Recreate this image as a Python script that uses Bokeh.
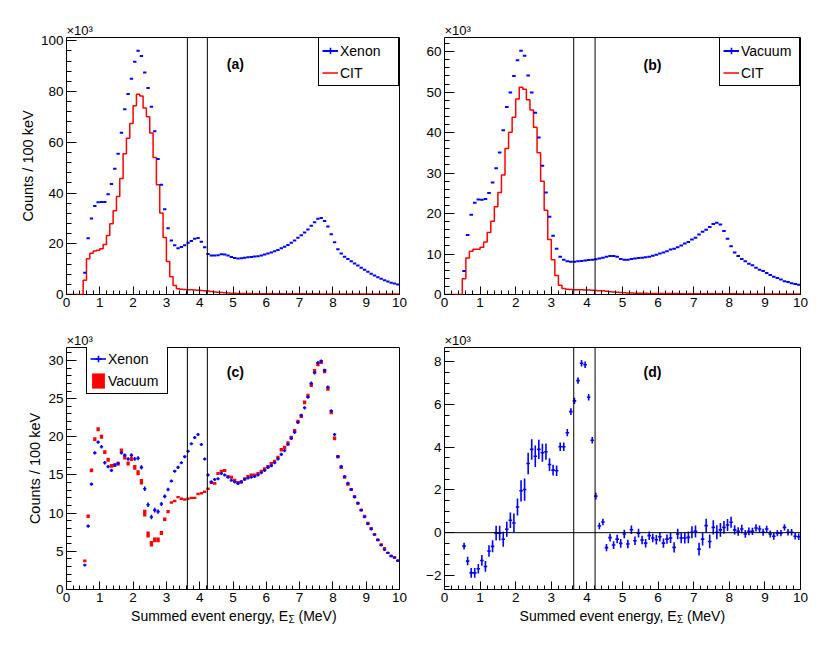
import numpy as np
from bokeh.plotting import figure
from bokeh.layouts import row, column
from bokeh.models import Span, Label, Legend, LegendItem, SingleIntervalTicker, Range1d
from bokeh.core.properties import value
from bokeh.embed import file_html
from bokeh.resources import INLINE

FONT = "Liberation Sans"
BLUE = "#0000ff"
RED = "#ff0000"

# ---------------- data (counts in units of 10^3 per 100 keV bin) ----------------
# bin centres of the filled bins (MeV), 0.55 ... 9.95
energy = [round(0.55 + 0.1 * i, 2) for i in range(95)]
# histogram bin edges for the CIT step histograms (MeV), 0.0 ... 10.0
cit_edges = [round(0.1 * i, 1) for i in range(101)]
# analysis window (MeV)
window_edges = [3.63, 4.23]
zero_level = 0.0

xenon_a = [
    8.6, 22.2, 30.0, 34.9, 36.4, 36.5, 36.5, 39.5, 43.6, 49.6,
    55.5, 63.8, 73.0, 79.0, 85.0, 91.7, 96.1, 94.0, 87.5, 81.4,
    74.0, 64.3, 53.4, 43.3, 33.6, 26.1, 21.3, 19.4, 18.2, 18.7,
    19.4, 20.4, 21.1, 22.0, 22.3, 20.8, 18.6, 16.0, 15.4, 15.4,
    15.5, 15.9, 15.8, 15.4, 14.8, 14.4, 14.2, 14.3, 14.5, 14.7,
    14.8, 15.0, 15.1, 15.4, 15.8, 16.2, 16.6, 17.0, 17.5, 18.2,
    18.8, 19.5, 20.4, 21.3, 22.4, 23.4, 24.4, 25.6, 27.1, 28.5,
    29.9, 30.2, 29.0, 26.8, 23.7, 20.6, 17.8, 16.2, 14.9, 14.0,
    13.1, 12.2, 11.4, 10.5, 9.8, 9.0, 8.2, 7.5, 6.8, 6.2,
    5.6, 5.1, 4.6, 4.3, 3.9,
]

cit_a = [
    0, 0, 0, 0, 0, 5.6, 14.1, 16.3, 17.1, 17.4,
    18.0, 19.7, 23.3, 27.9, 33.0, 38.6, 45.7, 55.5, 61.6, 67.4,
    74.4, 78.9, 78.2, 73.5, 70.1, 63.7, 54.0, 43.3, 32.1, 22.5,
    13.0, 7.0, 3.5, 2.3, 2.1, 2.0, 1.9, 1.9, 1.8, 1.7,
    1.6, 1.5, 1.4, 1.2, 1.0, 0.9, 0.8, 0.7, 0.6, 0.5,
    0.45, 0.42, 0.4, 0.38, 0.36, 0.35, 0.34, 0.33, 0.32, 0.31,
    0.3, 0.3, 0.29, 0.29, 0.28, 0.28, 0.27, 0.27, 0.27, 0.26,
    0.26, 0.26, 0.25, 0.25, 0.25, 0.25, 0.24, 0.24, 0.24, 0.23,
    0.23, 0.23, 0.22, 0.22, 0.22, 0.21, 0.21, 0.21, 0.2, 0.2,
    0.2, 0.2, 0.19, 0.19, 0.19, 0.18, 0.18, 0.18, 0.17, 0.17,
]

vacuum_b = [
    5.8, 14.7, 19.7, 22.7, 23.5, 23.4, 23.6, 25.1, 27.7, 31.2,
    35.1, 40.6, 46.3, 49.9, 54.0, 57.9, 60.2, 59.0, 54.1, 49.9,
    44.9, 38.8, 31.8, 25.2, 19.2, 14.5, 11.3, 9.3, 8.6, 8.2,
    8.1, 8.1, 8.2, 8.3, 8.4, 8.5, 8.6, 8.7, 8.9, 9.1,
    9.3, 9.5, 9.5, 9.3, 8.8, 8.6, 8.6, 8.8, 8.9, 9.0,
    9.1, 9.2, 9.3, 9.6, 9.8, 10.1, 10.4, 10.7, 11.1, 11.3,
    11.7, 12.1, 12.6, 13.0, 13.6, 14.0, 14.8, 15.5, 16.0, 16.7,
    17.4, 17.7, 17.3, 15.7, 13.8, 11.9, 10.4, 9.5, 8.8, 8.2,
    7.6, 7.2, 6.6, 6.1, 5.8, 5.3, 4.8, 4.4, 4.1, 3.7,
    3.3, 3.1, 2.8, 2.6, 2.4,
]

cit_b = [
    0, 0, 0, 0, 0, 3.9, 9.0, 10.7, 11.2, 11.2,
    11.7, 13.0, 15.3, 18.1, 21.7, 25.2, 29.5, 36.1, 40.1, 43.8,
    48.3, 51.2, 50.7, 48.1, 45.6, 41.3, 35.0, 28.0, 20.8, 13.6,
    8.6, 4.7, 2.3, 1.5, 1.3, 1.25, 1.2, 1.2, 1.15, 1.1,
    1.1, 1.05, 1.0, 0.95, 0.9, 0.8, 0.7, 0.6, 0.55, 0.5,
    0.42, 0.38, 0.35, 0.33, 0.31, 0.3, 0.28, 0.27, 0.26, 0.25,
    0.24, 0.24, 0.23, 0.23, 0.22, 0.22, 0.21, 0.21, 0.2, 0.2,
    0.2, 0.19, 0.19, 0.19, 0.18, 0.18, 0.18, 0.17, 0.17, 0.17,
    0.16, 0.16, 0.16, 0.15, 0.15, 0.15, 0.14, 0.14, 0.14, 0.13,
    0.13, 0.13, 0.12, 0.12, 0.12, 0.11, 0.11, 0.11, 0.1, 0.1,
]

xenon_c = [
    3.2, 8.3, 13.8, 17.9, 19.3, 18.7, 16.6, 16.1, 15.6, 16.3,
    16.5, 17.9, 17.6, 17.1, 17.6, 17.1, 17.2, 16.0, 13.2, 11.1,
    9.5, 10.4, 10.2, 11.2, 12.2, 13.1, 14.2, 15.5, 16.0, 16.6,
    17.4, 18.1, 19.1, 19.9, 20.3, 19.0, 17.1, 15.0, 14.1, 14.4,
    14.5, 15.2, 15.0, 14.7, 14.3, 14.1, 13.9, 14.1, 14.4, 14.6,
    14.7, 14.8, 15.0, 15.3, 15.6, 16.0, 16.2, 16.6, 17.1, 17.7,
    18.2, 19.0, 19.8, 20.6, 21.9, 22.8, 23.8, 25.2, 27.0, 28.4,
    29.7, 29.9, 28.7, 26.5, 23.4, 20.3, 17.4, 16.1, 14.8, 13.9,
    13.1, 12.1, 11.3, 10.4, 9.5, 8.6, 7.9, 7.2, 6.5, 5.8,
    5.2, 4.8, 4.4, 4.2, 3.8,
]

xenon_c_err = [
    0.18, 0.2, 0.2, 0.22, 0.22, 0.22, 0.22, 0.22, 0.22, 0.22,
    0.22, 0.22, 0.22, 0.24, 0.24, 0.25, 0.26, 0.28, 0.3, 0.3,
    0.3, 0.3, 0.28, 0.26, 0.24, 0.22, 0.2, 0.2, 0.2, 0.2,
    0.2, 0.2, 0.2, 0.2, 0.2, 0.2, 0.2, 0.2, 0.2, 0.2,
    0.2, 0.2, 0.2, 0.2, 0.2, 0.2, 0.2, 0.2, 0.2, 0.2,
    0.2, 0.2, 0.2, 0.2, 0.2, 0.2, 0.2, 0.2, 0.21, 0.21,
    0.21, 0.21, 0.21, 0.22, 0.22, 0.22, 0.22, 0.22, 0.23, 0.23,
    0.23, 0.23, 0.23, 0.22, 0.22, 0.21, 0.2, 0.2, 0.2, 0.2,
    0.19, 0.19, 0.19, 0.18, 0.18, 0.18, 0.18, 0.17, 0.17, 0.17,
    0.16, 0.16, 0.16, 0.16, 0.16,
]

vacuum_c = [
    3.75, 9.6, 15.6, 19.7, 21.0, 20.0, 18.0, 17.0, 16.2, 16.3,
    16.5, 18.2, 17.3, 16.5, 17.1, 16.0, 15.3, 14.1, 10.0, 7.2,
    6.0, 6.5, 6.5, 7.4, 9.2, 10.2, 11.4, 11.6, 12.1, 11.9,
    11.8, 11.9, 12.0, 12.0, 12.5, 12.6, 12.8, 13.2, 14.0, 13.9,
    15.2, 15.5, 15.6, 14.8, 14.7, 14.3, 14.0, 14.1, 14.5, 14.8,
    15.0, 15.0, 15.2, 15.5, 15.8, 16.1, 16.5, 16.8, 17.3, 18.3,
    18.6, 19.2, 19.9, 20.8, 22.0, 22.7, 24.5, 25.4, 26.8, 28.6,
    29.5, 29.8, 28.6, 26.3, 23.2, 19.8, 17.4, 16.0, 14.7, 13.8,
    13.1, 12.2, 11.3, 10.4, 9.6, 8.7, 8.0, 7.2, 6.5, 5.9,
    5.4, 4.8, 4.4, 4.2, 3.75,
]

vacuum_c_err = [
    0.17, 0.22, 0.24, 0.25, 0.26, 0.26, 0.25, 0.25, 0.25, 0.25,
    0.25, 0.26, 0.26, 0.27, 0.28, 0.3, 0.32, 0.36, 0.44, 0.4,
    0.36, 0.32, 0.3, 0.27, 0.24, 0.2, 0.17, 0.16, 0.16, 0.16,
    0.16, 0.16, 0.16, 0.16, 0.16, 0.16, 0.16, 0.17, 0.18, 0.18,
    0.19, 0.2, 0.2, 0.2, 0.2, 0.2, 0.2, 0.2, 0.2, 0.2,
    0.2, 0.2, 0.2, 0.2, 0.2, 0.21, 0.21, 0.21, 0.22, 0.22,
    0.22, 0.22, 0.23, 0.23, 0.24, 0.24, 0.25, 0.25, 0.26, 0.27,
    0.27, 0.27, 0.27, 0.26, 0.25, 0.24, 0.22, 0.21, 0.2, 0.2,
    0.2, 0.19, 0.19, 0.19, 0.18, 0.18, 0.18, 0.17, 0.17, 0.17,
    0.16, 0.16, 0.16, 0.16, 0.16,
]

difference_d = [
    -0.63, -1.33, -1.88, -1.88, -1.69, -1.30, -1.58, -0.86, -0.64, -0.02,
    -0.02, -0.31, 0.16, 0.58, 0.45, 1.20, 1.96, 2.02, 3.24, 3.90,
    3.58, 3.90, 3.74, 3.79, 3.19, 2.93, 2.90, 4.02, 4.02, 4.68,
    5.67, 6.17, 7.12, 7.93, 7.86, 6.34, 4.33, 1.71, 0.31, 0.50,
    -0.70, -0.23, -0.58, -0.30, -0.50, -0.06, -0.53, 0.14, -0.38, -0.02,
    -0.34, -0.49, -0.14, -0.25, -0.33, -0.19, -0.49, -0.30, -0.25, -0.69,
    -0.06, -0.25, -0.25, -0.22, 0.02, 0.06, -0.77, -0.30, 0.33, -0.41,
    0.25, 0.02, 0.13, 0.25, 0.36, 0.49, 0.13, 0.06, 0.17, -0.06,
    0.06, 0.06, 0.22, 0.17, 0.02, 0.17, -0.06, -0.17, -0.02, -0.02,
    0.25, 0.02, 0.02, -0.17, -0.19,
]

difference_d_err = [
    0.16, 0.2, 0.23, 0.23, 0.22, 0.25, 0.25, 0.27, 0.28, 0.35,
    0.35, 0.35, 0.35, 0.36, 0.45, 0.4, 0.5, 0.52, 0.5, 0.48,
    0.5, 0.45, 0.42, 0.38, 0.3, 0.25, 0.25, 0.2, 0.2, 0.17,
    0.16, 0.15, 0.15, 0.15, 0.15, 0.15, 0.15, 0.16, 0.15, 0.15,
    0.17, 0.18, 0.18, 0.2, 0.2, 0.2, 0.2, 0.2, 0.2, 0.2,
    0.2, 0.2, 0.2, 0.2, 0.22, 0.22, 0.22, 0.22, 0.23, 0.24,
    0.25, 0.25, 0.26, 0.27, 0.28, 0.28, 0.3, 0.3, 0.32, 0.32,
    0.33, 0.33, 0.32, 0.3, 0.28, 0.26, 0.22, 0.2, 0.2, 0.18,
    0.18, 0.17, 0.17, 0.17, 0.16, 0.16, 0.16, 0.16, 0.15, 0.15,
    0.15, 0.15, 0.15, 0.15, 0.15,
]

x_title_main = "Summed event energy, E"
x_title_sub = "\u03a3"
x_title_unit = "(MeV)"

# ---------------- helpers ----------------
e = np.array(energy)
half_bin = 0.05
bin_lo = e - half_bin
bin_hi = e + half_bin


def base_fig(fw, fh, y0, y1, ytick, yminor, bl, br, bt, bb):
    p = figure(frame_width=fw, frame_height=fh,
               x_range=Range1d(0, 10), y_range=Range1d(y0, y1),
               output_backend="svg", toolbar_location=None, tools="",
               min_border_left=bl, min_border_right=br,
               min_border_top=bt, min_border_bottom=bb,
               background_fill_color="white", border_fill_color="white",
               title="\u00d710\u00b3")
    p.outline_line_color = "black"
    p.outline_line_width = 1
    p.outline_line_alpha = 1.0
    p.xgrid.visible = False
    p.ygrid.visible = False
    p.title.align = "left"
    p.title.text_font = FONT
    p.title.text_font_size = "13px"
    p.title.text_font_style = "normal"
    p.title.text_color = "black"
    p.title.standoff = 0
    p.xaxis.ticker = SingleIntervalTicker(interval=1, num_minor_ticks=5)
    p.yaxis.ticker = SingleIntervalTicker(interval=ytick, num_minor_ticks=yminor)
    for ax in list(p.xaxis) + list(p.yaxis):
        ax.axis_line_color = None
        ax.major_tick_out = 0
        ax.minor_tick_out = 0
        ax.major_tick_line_color = "black"
        ax.minor_tick_line_color = "black"
        ax.major_label_text_font = FONT
        ax.major_label_text_font_size = "13.5px"
        ax.major_label_text_color = "black"
        ax.major_label_standoff = 3
        ax.axis_label_text_font = FONT
        ax.axis_label_text_font_size = "14.5px"
        ax.axis_label_text_font_style = "normal"
        ax.axis_label_text_color = "black"
        ax.axis_label_standoff = 2
    p.xaxis.major_tick_in = 8
    p.xaxis.minor_tick_in = 4
    p.yaxis.major_tick_in = 10
    p.yaxis.minor_tick_in = 5
    for loc in window_edges:
        p.add_layout(Span(location=loc, dimension="height",
                          line_color="black", line_width=1))
    return p


def add_legend(p, items, location, lw):
    leg = Legend(items=items, location=location, margin=0, padding=3, spacing=3,
                 glyph_width=16, glyph_height=19, label_height=19,
                 label_width=lw, label_standoff=2,
                 label_text_font=FONT, label_text_font_size="14px",
                 label_text_color="black",
                 border_line_color="black", border_line_width=1,
                 border_line_alpha=1.0,
                 background_fill_color="white", background_fill_alpha=1.0)
    p.add_layout(leg)


def panel_tag(p, x, y, text):
    p.add_layout(Label(x=x, y=y, text=text, text_font=FONT,
                       text_font_size="14px", text_font_style="bold",
                       text_align="center", text_baseline="middle",
                       text_color="black"))


def title_strip(fw, bl, br):
    """A frameless strip under a bottom panel holding the x-axis title."""
    fh = 26
    s = figure(frame_width=fw, frame_height=fh,
               x_range=Range1d(0, fw), y_range=Range1d(0, fh),
               x_axis_location=None, y_axis_location=None,
               output_backend="svg", toolbar_location=None, tools="",
               min_border_left=bl, min_border_right=br,
               min_border_top=0, min_border_bottom=0,
               outline_line_color=None,
               background_fill_color="white", border_fill_color="white")
    s.xgrid.visible = False
    s.ygrid.visible = False
    xs = fw / 2 + 55
    common = dict(text_font=value(FONT), text_color="black",
                  text_baseline="alphabetic")
    s.text(x=[xs], y=[fh - 11.5], text=[x_title_main], text_align="right",
           text_font_size="14px", **common)
    s.text(x=[xs + 0.5], y=[fh - 14.5], text=[x_title_sub], text_align="left",
           text_font_size="10px", **common)
    s.text(x=[xs + 10.5], y=[fh - 11.5], text=[x_title_unit], text_align="left",
           text_font_size="14px", **common)
    return s


def cross_marker(p):
    return p.scatter(x=[np.nan], y=[np.nan], marker="cross",
                     size=8, line_color=BLUE, line_width=1.6)


# ---------------- (a) ----------------
pa = base_fig(333, 257, 0, 101.3, 20, 5, 66, 24, 37, 28)
pa.yaxis.axis_label = "Counts / 100 keV"
cit_a_r = pa.step(x=cit_edges, y=cit_a + [cit_a[-1]], mode="after",
                  line_color=RED, line_width=1.5)
xa_r = pa.segment(x0=bin_lo, y0=xenon_a, x1=bin_hi, y1=xenon_a,
                  line_color=BLUE, line_width=2)
xa_m = cross_marker(pa)
add_legend(pa, [LegendItem(label="Xenon", renderers=[xa_r, xa_m]),
                LegendItem(label="CIT", renderers=[cit_a_r])], "top_right", 55)
panel_tag(pa, 5.07, 90.7, "(a)")

# ---------------- (b) ----------------
pb = base_fig(356, 257, 0, 63.5, 10, 5, 20, 12, 37, 28)
cit_b_r = pb.step(x=cit_edges, y=cit_b + [cit_b[-1]], mode="after",
                  line_color=RED, line_width=1.5)
vb_r = pb.segment(x0=bin_lo, y0=vacuum_b, x1=bin_hi, y1=vacuum_b,
                  line_color=BLUE, line_width=2)
vb_m = cross_marker(pb)
add_legend(pb, [LegendItem(label="Vacuum", renderers=[vb_r, vb_m]),
                LegendItem(label="CIT", renderers=[cit_b_r])], "top_right", 55)
panel_tag(pb, 5.84, 56.8, "(b)")

# ---------------- (c) ----------------
pc = base_fig(333, 242, 0, 31.7, 5, 5, 66, 24, 25, 0)
pc.yaxis.axis_label = "Counts / 100 keV"
vc = np.array(vacuum_c)
vce = np.array(vacuum_c_err)
xc = np.array(xenon_c)
xce = np.array(xenon_c_err)
vac_r = pc.quad(left=bin_lo, right=bin_hi, bottom=vc - vce, top=vc + vce,
                fill_color=RED, line_color=None)
xc_h = pc.segment(x0=bin_lo, y0=xc, x1=bin_hi, y1=xc, line_color=BLUE, line_width=1.6)
xc_v = pc.segment(x0=e, y0=xc - xce, x1=e, y1=xc + xce, line_color=BLUE, line_width=1.6)
xc_m = cross_marker(pc)
add_legend(pc, [LegendItem(label="Xenon", renderers=[xc_h, xc_m]),
                LegendItem(label="Vacuum", renderers=[vac_r])], (20, 242 - 47), 56)
panel_tag(pc, 5.07, 28.5, "(c)")

# ---------------- (d) ----------------
pd_ = base_fig(356, 242, -2.66, 8.67, 2, 4, 20, 12, 25, 0)
pd_.add_layout(Span(location=zero_level, dimension="width",
                    line_color="black", line_width=1))
dd = np.array(difference_d)
dde = np.array(difference_d_err)
pd_.segment(x0=bin_lo, y0=dd, x1=bin_hi, y1=dd, line_color=BLUE, line_width=1.6)
pd_.segment(x0=e, y0=dd - dde, x1=e, y1=dd + dde, line_color=BLUE, line_width=1.6)
panel_tag(pd_, 5.84, 7.5, "(d)")

strip_c = title_strip(333, 66, 24)
strip_d = title_strip(356, 20, 12)

layout = column(row(pa, pb), row(pc, pd_), row(strip_c, strip_d))
open("out.html", "w").write(file_html(layout, INLINE))
